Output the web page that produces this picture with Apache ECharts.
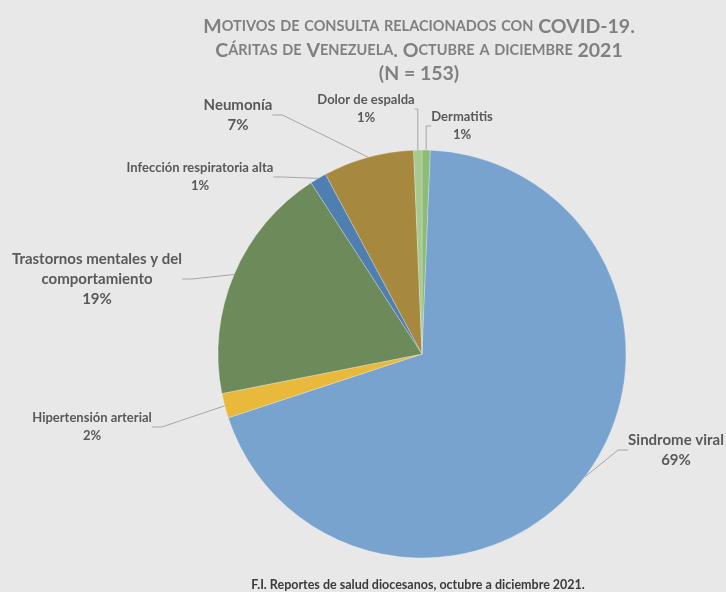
<!DOCTYPE html>
<html>
<head>
<meta charset="utf-8">
<script src="https://cdn.jsdelivr.net/npm/echarts@6/dist/echarts.min.js"></script>
<style>
  html, body { margin: 0; padding: 0; background: #e7e8e7; }
  #chart { width: 726px; height: 592px; }
</style>
</head>
<body>
<div id="chart"></div>
<script>
// datos (orden en sentido horario desde las 12)
const categories = [
  'Dermatitis',
  'Sindrome viral',
  'Hipertensión arterial',
  'Trastornos mentales y del\ncomportamiento',
  'Infección respiratoria alta',
  'Neumonía',
  'Dolor de espalda'
]
const counts = [1, 106, 3, 29, 2, 11, 1]
const colors = ['#8dbb78', '#79a3cf', '#e9b93b', '#6d8a5b', '#4f7fb0', '#a6883f', '#a6c98f']

const titleLines = [
  'Motivos de consulta relacionados con COVID-19.',
  'Cáritas de Venezuela. Octubre a diciembre 2021',
  '(N = 153)'
]
const sourceText = 'F.I. Reportes de salud diocesanos, octubre a diciembre 2021.'

// posiciones de etiquetas (centro del bloque de texto)
const labelPos = [
  [462, 126], [676, 450], [92, 427], [97, 279], [200, 177], [238, 115], [366, 109]
]
const labelSize = [13, 15, 13, 15, 13, 15, 13]

// versalitas: minúsculas -> mayúsculas pequeñas
function smallCaps(str) {
  let out = ''
  let cur = null
  let buf = ''
  for (const ch of str) {
    const isLower = ch !== ch.toUpperCase()
    const st = isLower ? 's' : 'b'
    if (st !== cur && buf) { out += '{' + cur + '|' + buf + '}'; buf = '' }
    cur = st
    buf += isLower ? ch.toUpperCase() : ch
  }
  if (buf) out += '{' + cur + '|' + buf + '}'
  return out
}

const chart = echarts.init(document.getElementById('chart'))
const font = 'Lato, "Open Sans", sans-serif'

chart.setOption({
  backgroundColor: '#e7e8e7',
  title: [{
    text: titleLines.map(smallCaps).join('\n'),
    left: 414,
    top: 10,
    textAlign: 'center',
    textStyle: {
      rich: {
        b: { fontFamily: font, fontWeight: 'bold', fontSize: 19.5, color: '#808080', lineHeight: 23.5 },
        s: { fontFamily: font, fontWeight: 'bold', fontSize: 14.5, color: '#808080', lineHeight: 23.5 }
      }
    }
  }, {
    text: sourceText,
    left: 413,
    top: 573,
    textAlign: 'center',
    textStyle: { fontFamily: font, fontWeight: 'bold', fontSize: 12.5, color: '#3a3a3a' }
  }],
  series: [{
    type: 'pie',
    center: [422, 354],
    radius: 204,
    startAngle: 90,
    clockwise: true,
    percentPrecision: 0,
    silent: true,
    animation: false,
    itemStyle: { borderColor: 'rgba(255,255,255,0.25)', borderWidth: 1 },
    label: {
      show: true,
      formatter: '{b}\n{d}%',
      fontFamily: font,
      fontWeight: 'bold',
      color: '#595959',
      align: 'center'
    },
    labelLine: {
      show: true,
      length: 10,
      length2: 10,
      lineStyle: { color: '#a6a6a6', width: 1 }
    },
    labelLayout: function (p) {
      const pos = labelPos[p.dataIndex]
      return { x: pos[0], y: pos[1], align: 'center', verticalAlign: 'middle' }
    },
    data: categories.map(function (name, i) {
      return {
        name: name,
        value: counts[i],
        itemStyle: { color: colors[i] },
        label: { fontSize: labelSize[i], lineHeight: labelSize[i] + 5 }
      }
    })
  }]
})
</script>
</body>
</html>
